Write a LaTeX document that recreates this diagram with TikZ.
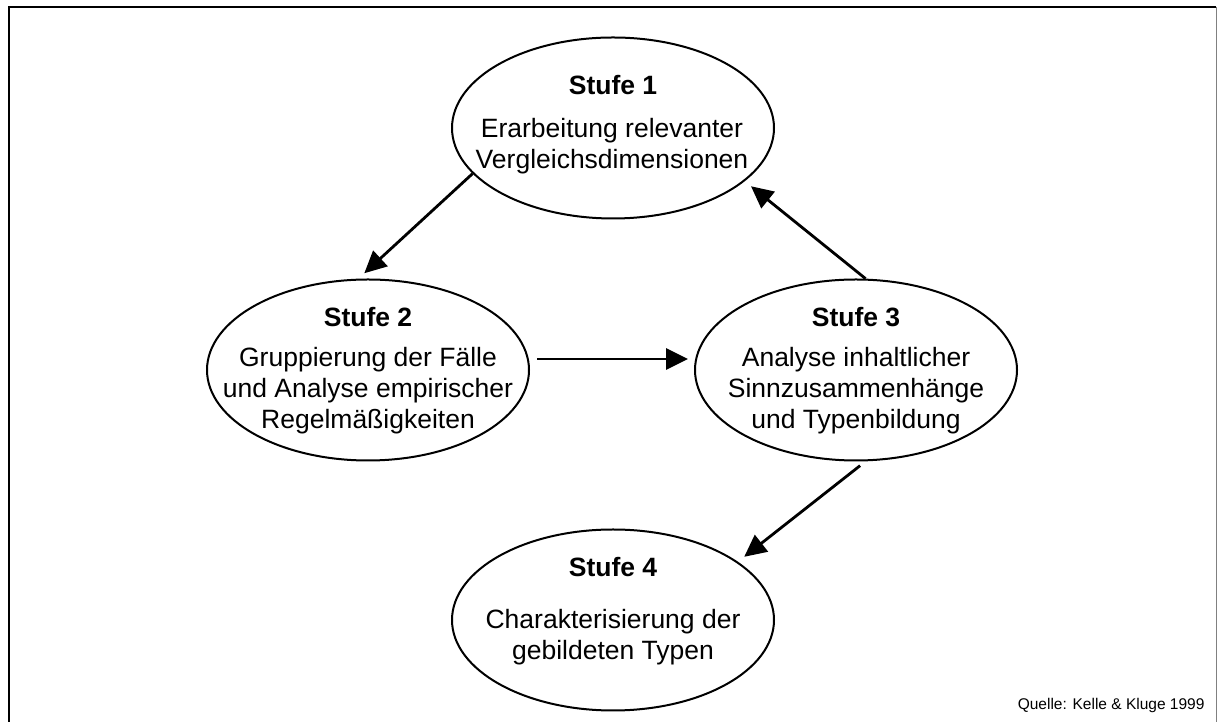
\documentclass[tikz,border=0pt]{standalone}
\usepackage{fontspec}
\setmainfont{Liberation Sans}
\usetikzlibrary{arrows.meta,positioning,shapes.geometric}

\begin{document}
\begin{tikzpicture}[x=1pt,y=1pt,
  stage/.style={draw,ellipse,line width=2pt,minimum width=322pt,minimum height=181pt,inner sep=0pt},
  head/.style={font=\fontsize{26.5}{31}\selectfont\bfseries},
  body/.style={font=\fontsize{26.5}{31}\selectfont,align=center},
  flow/.style={line width=2.8pt,-{Triangle[length=22pt,width=21pt]}}]
\useasboundingbox (0,0) rectangle (1218,722);
\draw[line width=2.8pt] (9,0)--(9,715)--(1216,715);
\draw[gray,line width=1pt] (1216,715)--(1216,0);
\node[stage] (s1) at (613,594) {};
\node[stage] (s2) at (368,352) {};
\node[stage] (s3) at (856,352) {};
\node[stage] (s4) at (613,102) {};
\node[head] (h1) at (613,637) {Stufe 1};
\node[head] (h2) at (368,405) {Stufe 2};
\node[head] (h3) at (856,405) {Stufe 3};
\node[head] (h4) at (613,155) {Stufe 4};
\node[body] (b1) at (612,576) {Erarbeitung relevanter\\Vergleichsdimensionen};
\node[body] (b2) at (368,331) {Gruppierung der Fälle\\und Analyse empirischer\\Regelmäßigkeiten};
\node[body] (b3) at (856,331) {Analyse inhaltlicher\\Sinnzusammenhänge\\und Typenbildung};
\node[body] (b4) at (613,85) {Charakterisierung der\\gebildeten Typen};
\draw[flow,shorten >=8pt] (s1.198)--(s2.96);
\draw[flow,shorten <=7pt,shorten >=6pt] ([yshift=11pt]s2.east)--([yshift=11pt]s3.west);
\draw[flow,shorten >=8pt] (s3.84)--(s1.-22);
\draw[flow,shorten <=7pt,shorten >=8pt] (s3.-84)--(s4.25);
\node[anchor=base east,font=\fontsize{15.5}{18}\selectfont] (src) at (1208,12) {Quelle: Kelle \& Kluge 1999};
\end{tikzpicture}
\end{document}
